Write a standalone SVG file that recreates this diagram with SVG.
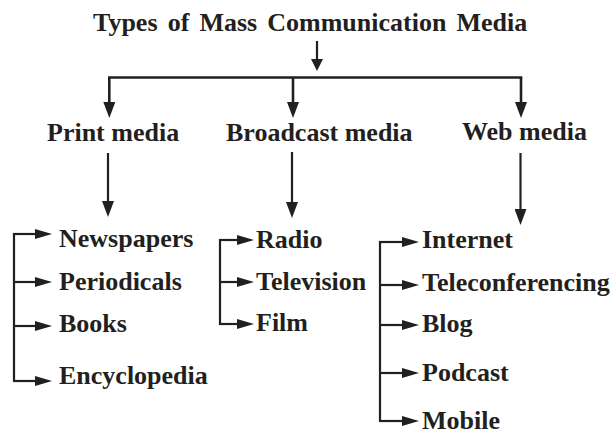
<svg xmlns="http://www.w3.org/2000/svg" width="612" height="434" viewBox="0 0 612 434">
<style>
text{font-family:"Liberation Serif","Times New Roman",serif;font-weight:bold;font-size:26px;fill:#231f20}
.c{fill:none;stroke:#231f20;stroke-width:2.2}
.b{fill:none;stroke:#231f20;stroke-width:2.6}
</style>
<defs>
<marker id="ah" markerUnits="userSpaceOnUse" viewBox="0 0 17 10" markerWidth="17" markerHeight="10" refX="9" refY="5" orient="auto"><path d="M0,0 L17,5 L0,10 z" fill="#231f20"/></marker>
<marker id="av" markerUnits="userSpaceOnUse" viewBox="0 0 16 12" markerWidth="16" markerHeight="12" refX="8" refY="6" orient="auto"><path d="M0,0 L16,6 L0,12 z" fill="#231f20"/></marker>
<marker id="as" markerUnits="userSpaceOnUse" viewBox="0 0 12 12" markerWidth="12" markerHeight="12" refX="4" refY="6" orient="auto"><path d="M0,0 L12,6 L0,12 z" fill="#231f20"/></marker>
</defs>
<g id="connectors">
<path class="c" d="M317,41 V63" marker-end="url(#as)"/>
<path class="b" d="M108,77.5 H522.3"/>
<path class="b" d="M109.3,77.5 V110" marker-end="url(#av)"/>
<path class="b" d="M293,77.5 V110" marker-end="url(#av)"/>
<path class="b" d="M521,77.5 V110" marker-end="url(#av)"/>
<path class="c" d="M108,153 V209" marker-end="url(#av)"/>
<path class="c" d="M292,152 V210" marker-end="url(#av)"/>
<path class="c" d="M520.5,153 V217" marker-end="url(#av)"/>
<path class="c" d="M14,233 V382"/>
<path class="c" d="M13,234 H44" marker-end="url(#ah)"/>
<path class="c" d="M13,282 H44" marker-end="url(#ah)"/>
<path class="c" d="M13,326 H44" marker-end="url(#ah)"/>
<path class="c" d="M13,381 H44" marker-end="url(#ah)"/>
<path class="c" d="M220,239 V325"/>
<path class="c" d="M219,240 H246" marker-end="url(#ah)"/>
<path class="c" d="M219,282 H246" marker-end="url(#ah)"/>
<path class="c" d="M219,324 H246" marker-end="url(#ah)"/>
<path class="c" d="M380,241 V422"/>
<path class="c" d="M379,242 H411" marker-end="url(#ah)"/>
<path class="c" d="M379,285 H411" marker-end="url(#ah)"/>
<path class="c" d="M379,325 H411" marker-end="url(#ah)"/>
<path class="c" d="M379,373 H411" marker-end="url(#ah)"/>
<path class="c" d="M379,421 H411" marker-end="url(#ah)"/>
</g>
<g id="title"><text x="93" y="31" word-spacing="3.6">Types of Mass Communication Media</text></g>
<g id="print"><text x="47" y="141">Print media</text></g>
<g id="broadcast"><text x="226" y="141">Broadcast media</text></g>
<g id="web"><text x="462" y="140">Web media</text></g>
<g id="newspapers"><text x="59" y="247">Newspapers</text></g>
<g id="periodicals"><text x="59" y="290">Periodicals</text></g>
<g id="books"><text x="59" y="332">Books</text></g>
<g id="encyclopedia"><text x="59" y="384">Encyclopedia</text></g>
<g id="radio"><text x="256" y="248">Radio</text></g>
<g id="television"><text x="256" y="290">Television</text></g>
<g id="film"><text x="256" y="331">Film</text></g>
<g id="internet"><text x="422" y="248">Internet</text></g>
<g id="teleconferencing"><text x="422" y="291">Teleconferencing</text></g>
<g id="blog"><text x="422" y="332">Blog</text></g>
<g id="podcast"><text x="422" y="381">Podcast</text></g>
<g id="mobile"><text x="422" y="429">Mobile</text></g>
</svg>
